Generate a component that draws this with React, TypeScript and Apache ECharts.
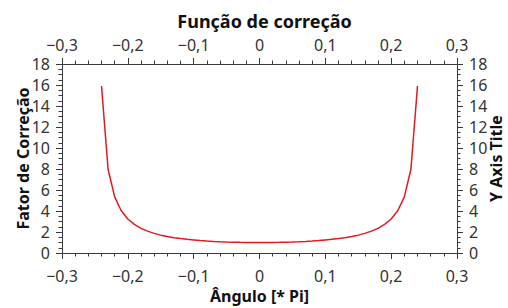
import React, { useEffect, useRef } from "react";
import * as echarts from "echarts";

const angles = [
  -0.24, -0.23, -0.22, -0.21, -0.2, -0.19, -0.18, -0.17, -0.16, -0.15, -0.14, -0.13, -0.12,
  -0.11, -0.1, -0.09, -0.08, -0.07, -0.06, -0.05, -0.04, -0.03, -0.02, -0.01, 0,
  0.01, 0.02, 0.03, 0.04, 0.05, 0.06, 0.07, 0.08, 0.09, 0.1, 0.11, 0.12, 0.13,
  0.14, 0.15, 0.16, 0.17, 0.18, 0.19, 0.2, 0.21, 0.22, 0.23, 0.24,
];
const factors = [
  15.9, 7.98, 5.34, 4.02, 3.24, 2.72, 2.35, 2.08, 1.87, 1.7, 1.57, 1.46, 1.37,
  1.3, 1.24, 1.18, 1.14, 1.105, 1.075, 1.051, 1.032, 1.018, 1.008, 1.002, 1.0,
  1.002, 1.008, 1.018, 1.032, 1.051, 1.075, 1.105, 1.14, 1.18, 1.24, 1.3, 1.37, 1.46,
  1.57, 1.7, 1.87, 2.08, 2.35, 2.72, 3.24, 4.02, 5.34, 7.98, 15.9,
];

const title = "Função de correção";
const xName = "Ângulo [* Pi]";
const yLeftName = "Fator de Correção";
const yRightName = "Y Axis Title";

const FONT = "Noto Sans";
const AXIS_COLOR = "#3a3a3a";

const fmtX = (v: number) => {
  if (Math.abs(v) < 1e-9) return "0";
  return v.toFixed(1).replace(".", ",").replace("-", "\u2212");
};

export default function App() {
  const ref = useRef<HTMLDivElement>(null);
  useEffect(() => {
    if (!ref.current) return;
    const chart = echarts.init(ref.current, undefined, { renderer: "svg" });
    const axisLine = { show: true, onZero: false, lineStyle: { color: AXIS_COLOR, width: 1 } };
    const axisTick = { show: true, inside: false, length: 6, lineStyle: { color: AXIS_COLOR, width: 1 } };
    const minorTick = { show: true, length: 3.5, lineStyle: { color: AXIS_COLOR, width: 1 } };
    const labelStyle = { color: "#333", fontSize: 16, fontFamily: FONT };
    const nameStyle = { color: "#111", fontSize: 16, fontWeight: "bold" as const, fontFamily: FONT };
    const xBase = {
      type: "value" as const,
      min: -0.3,
      max: 0.3,
      interval: 0.1,
      axisLine,
      axisTick,
      minorTick: { ...minorTick, splitNumber: 5 },
      splitLine: { show: false },
      nameMoveOverlap: false,
    };
    const yBase = {
      type: "value" as const,
      min: 0,
      max: 18,
      interval: 2,
      axisLine,
      axisTick,
      minorTick: { ...minorTick, splitNumber: 4 },
      splitLine: { show: false },
      axisLabel: { ...labelStyle, margin: 12 },
      nameMoveOverlap: false,
    };
    chart.setOption({
      animation: false,
      backgroundColor: "#fff",
      title: {
        text: title,
        left: 259.5,
        textAlign: "center",
        top: 7,
        textStyle: { color: "#111", fontSize: 18, fontWeight: "bold", fontFamily: FONT },
      },
      grid: { left: 62, right: 51, top: 64, bottom: 55, containLabel: false, outerBoundsMode: "none" },
      xAxis: [
        {
          ...xBase,
          position: "bottom",
          axisLabel: { ...labelStyle, margin: 15, formatter: fmtX },
          name: xName,
          nameLocation: "middle",
          nameGap: 35,
          nameTextStyle: nameStyle,
        },
        { ...xBase, position: "top", axisLabel: { ...labelStyle, margin: 11, formatter: fmtX } },
      ],
      yAxis: [
        { ...yBase, position: "left", name: yLeftName, nameLocation: "middle", nameGap: 31, nameTextStyle: nameStyle },
        { ...yBase, position: "right", name: yRightName, nameLocation: "middle", nameGap: 31, nameRotate: 90, nameTextStyle: nameStyle },
      ],
      series: [
        {
          type: "line",
          xAxisIndex: 0,
          yAxisIndex: 0,
          data: angles.map((a, i) => [a, factors[i]]),
          showSymbol: false,
          symbol: "none",
          lineStyle: { color: "#e3191c", width: 1.5 },
        },
      ],
    });
    return () => chart.dispose();
  }, []);
  return <div ref={ref} style={{ width: 508, height: 308, position: "absolute", left: 0, top: 0 }} />;
}
